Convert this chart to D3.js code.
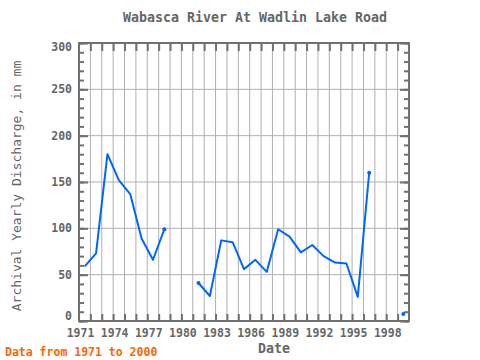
<!DOCTYPE html>
<html><head><meta charset="utf-8">
<script src="https://cdn.jsdelivr.net/npm/d3@7"></script>
<style>body{margin:0;background:#fff}svg{display:block}</style>
</head><body>
<script>
const years = [1971,1972,1973,1974,1975,1976,1977,1978,1979,1980,1981,1982,1983,1984,1985,1986,1987,1988,1989,1990,1991,1992,1993,1994,1995,1996,1997,1998,1999];
const discharge = [59,73,180,152,137,89,66,99,null,null,41,27,87,85,56,66,53,99,91,74,82,70,63,62,26,160,null,null,7.5];
const xTickYears = [1971,1974,1977,1980,1983,1986,1989,1992,1995,1998];
const yTicks = [0,50,100,150,200,250,300];
const title = "Wabasca River At Wadlin Lake Road";
const yLabel = "Archival Yearly Discharge, in mm";
const xLabel = "Date";
const note = "Data from 1971 to 2000";

const W = 480, H = 360;
const L = 79, R = 409, T = 43, B = 321;
const font = "'DejaVu Sans Mono', monospace";
const gray = "#666";

const svg = d3.select("body").append("svg").attr("width", W).attr("height", H);
const x = d3.scaleLinear().domain([1971, 2000]).range([L, R]);
const y = d3.scaleLinear().domain([0, 300]).range([B, T]);

// grid
const allYears = d3.range(1971, 2001);
svg.append("g").selectAll("line").data(allYears.slice(1, -1)).join("line")
  .attr("x1", d => x(d)).attr("x2", d => x(d)).attr("y1", T).attr("y2", B)
  .attr("stroke", "#b0b0b0").attr("stroke-width", 1);
svg.append("g").selectAll("line").data(yTicks.slice(1, -1)).join("line")
  .attr("x1", L).attr("x2", R).attr("y1", d => y(d)).attr("y2", d => y(d))
  .attr("stroke", "#b0b0b0").attr("stroke-width", 1);

// axes with inward ticks
const axisColor = "#707070";
const tickYears = allYears.slice(1, -1);
const gB = svg.append("g").attr("transform", `translate(0,${B})`)
  .call(d3.axisBottom(x).tickValues(tickYears).tickSize(-7).tickFormat(""));
const gT = svg.append("g").attr("transform", `translate(0,${T})`)
  .call(d3.axisTop(x).tickValues(tickYears).tickSize(-8).tickFormat(""));
const minorY = d3.range(0, 301, 10);
const gLm = svg.append("g").attr("transform", `translate(${L},0)`)
  .call(d3.axisLeft(y).tickValues(minorY).tickSize(-5).tickFormat(""));
const gRm = svg.append("g").attr("transform", `translate(${R},0)`)
  .call(d3.axisRight(y).tickValues(minorY).tickSize(-5).tickFormat(""));
const gRM = svg.append("g").attr("transform", `translate(${R},0)`)
  .call(d3.axisRight(y).tickValues(yTicks).tickSize(-9).tickFormat(""));
const gLM = svg.append("g").attr("transform", `translate(${L},0)`)
  .call(d3.axisLeft(y).tickValues(yTicks).tickSize(-9).tickFormat(""));
[gB, gT, gLm, gRm, gRM, gLM].forEach(g => {
  g.select(".domain").remove();
  g.selectAll(".tick line").attr("stroke", axisColor).attr("stroke-width", 2);
});
svg.append("rect").attr("x", L).attr("y", T).attr("width", R - L).attr("height", B - T)
  .attr("fill", "none").attr("stroke", axisColor).attr("stroke-width", 2);

// tick labels
svg.append("g").selectAll("text").data(xTickYears).join("text")
  .attr("x", d => x(d) + 1.5).attr("y", B + 16)
  .attr("text-anchor", "middle").attr("font-family", font).attr("font-size", 11.5)
  .attr("font-weight", "bold").attr("fill", gray).text(d => d);
svg.append("g").selectAll("text").data(yTicks).join("text")
  .attr("x", L - 7).attr("y", d => Math.max(T + 8, Math.min(B - 1, y(d) + 4)))
  .attr("text-anchor", "end").attr("font-family", font).attr("font-size", 11.5)
  .attr("font-weight", "bold").attr("fill", gray).text(d => d);

// data line
const pts = years.map((yr, i) => ({yr, v: discharge[i], i}));
const line = d3.line().defined(d => d.v != null).x(d => x(d.yr + 0.5)).y(d => y(d.v));
svg.append("path").datum(pts).attr("d", line)
  .attr("fill", "none").attr("stroke", "#0066ff").attr("stroke-width", 2)
  .attr("stroke-linejoin", "round");
const isolated = pts.filter(d => d.v != null && (
  (d.i > 0 && discharge[d.i - 1] == null) || (d.i < discharge.length - 1 && discharge[d.i + 1] == null) || d.i === discharge.length - 1));
svg.append("g").selectAll("circle").data(isolated).join("circle")
  .attr("cx", d => x(d.yr + 0.5)).attr("cy", d => y(d.v)).attr("r", 2)
  .attr("fill", "#0066ff");

// titles
svg.append("text").attr("x", 255).attr("y", 22).attr("text-anchor", "middle")
  .attr("font-family", font).attr("font-size", 13.3).attr("font-weight", "bold")
  .attr("fill", gray).text(title);
svg.append("text").attr("transform", `translate(21,${(T + B) / 2 + 4}) rotate(-90)`)
  .attr("text-anchor", "middle").attr("font-family", font).attr("font-size", 13)
  .attr("fill", gray).text(yLabel);
svg.append("text").attr("x", 274).attr("y", 353).attr("text-anchor", "middle")
  .attr("font-family", font).attr("font-size", 13.3).attr("font-weight", "bold")
  .attr("fill", gray).text(xLabel);
svg.append("text").attr("x", 5).attr("y", 356).attr("text-anchor", "start")
  .attr("font-family", font).attr("font-size", 11.5).attr("font-weight", "bold")
  .attr("fill", "#ff6600").text(note);
</script>
</body></html>
